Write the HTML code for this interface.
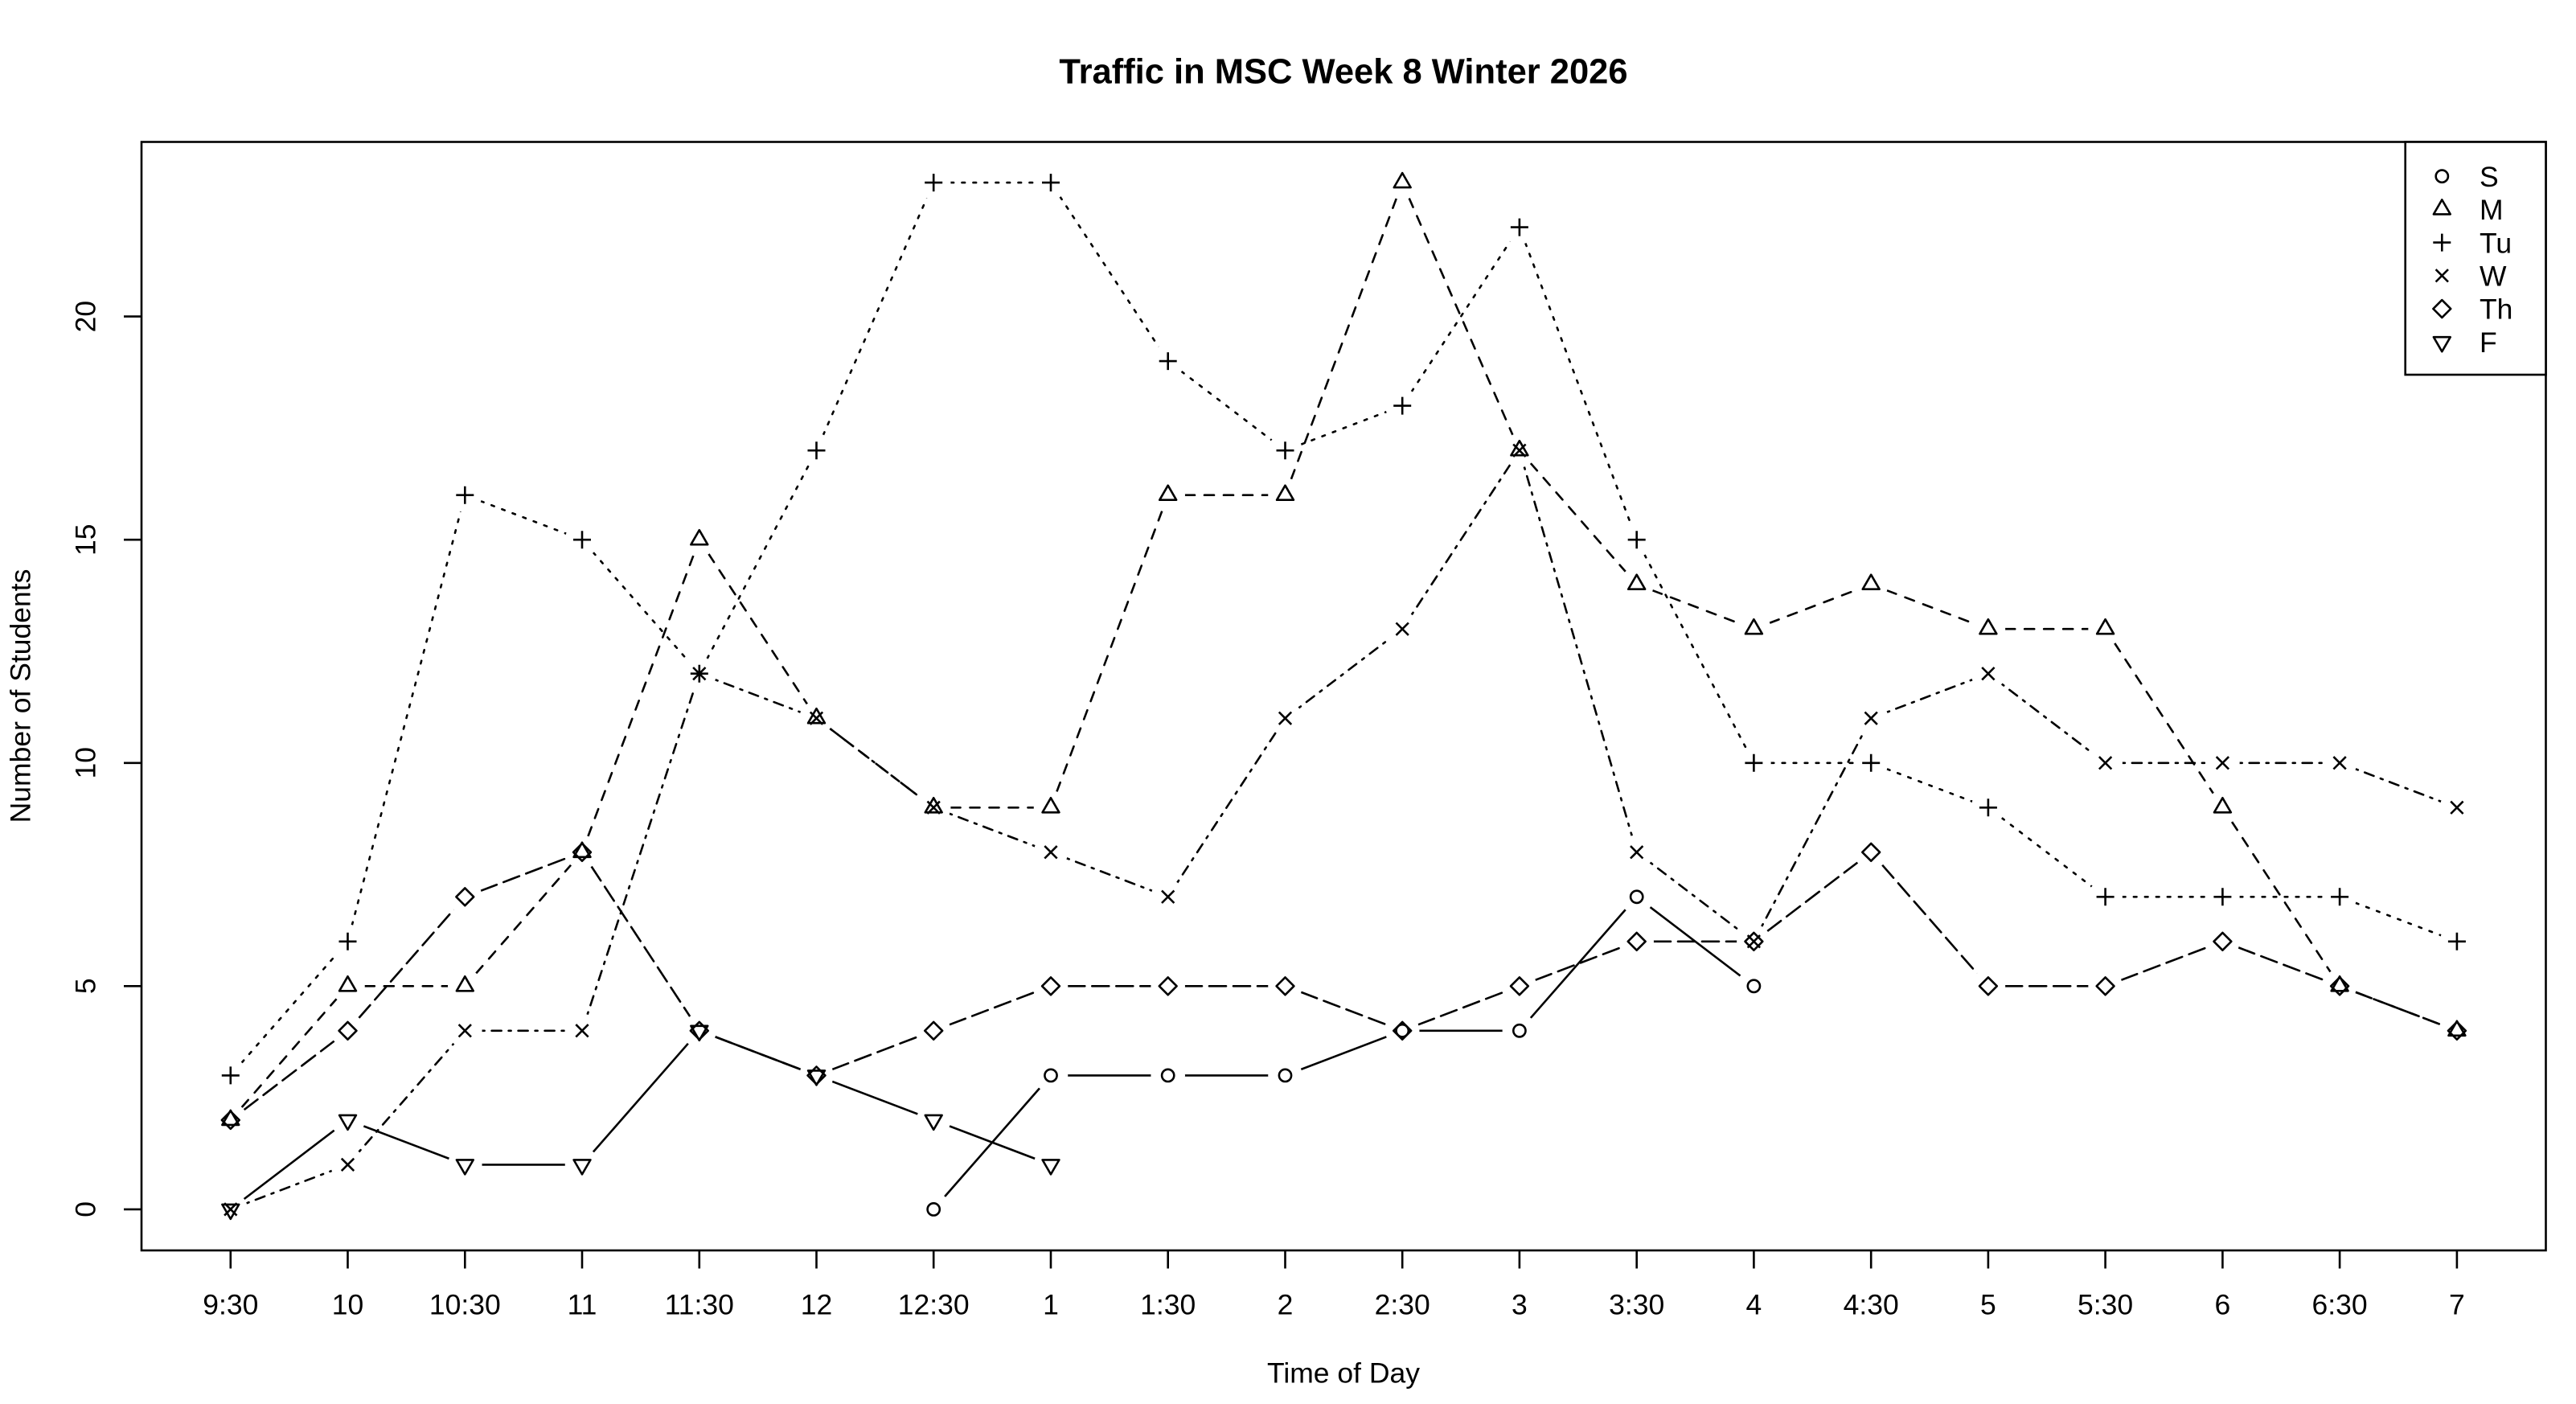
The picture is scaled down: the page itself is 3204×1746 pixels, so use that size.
<!DOCTYPE html>
<html>
<head>
<meta charset="utf-8">
<style>
html,body{margin:0;padding:0;background:#fff;}
svg{display:block;}
text{font-family:"Liberation Sans",Arial,Helvetica,sans-serif;fill:#000;}
</style>
</head>
<body>
<svg xmlns="http://www.w3.org/2000/svg" width="3204" height="1746" viewBox="0 0 3204 1746">
<defs>
  <circle id="p1" cx="0" cy="0" r="7.6" fill="none" stroke="#000" stroke-width="2.6"/>
  <polygon id="p2" points="0,-12 10.4,6 -10.4,6" fill="none" stroke="#000" stroke-width="2.6" stroke-linejoin="round"/>
  <path id="p3" d="M-11,0H11M0,-11V11" fill="none" stroke="#000" stroke-width="2.6"/>
  <path id="p4" d="M-7.7,-7.7L7.7,7.7M-7.7,7.7L7.7,-7.7" fill="none" stroke="#000" stroke-width="2.6"/>
  <polygon id="p5" points="0,-10.9 10.9,0 0,10.9 -10.9,0" fill="none" stroke="#000" stroke-width="2.6" stroke-linejoin="round"/>
  <polygon id="p6" points="0,12 10.4,-6 -10.4,-6" fill="none" stroke="#000" stroke-width="2.6" stroke-linejoin="round"/>

  <mask id="mS" maskUnits="userSpaceOnUse" x="0" y="0" width="3204" height="1746">
    <rect x="0" y="0" width="3204" height="1746" fill="#fff"/>
    <g fill="#000">
      <circle cx="1161.2" cy="1503.9" r="21.3"/><circle cx="1307" cy="1337.4" r="21.3"/><circle cx="1452.7" cy="1337.4" r="21.3"/><circle cx="1598.5" cy="1337.4" r="21.3"/><circle cx="1744.2" cy="1281.8" r="21.3"/><circle cx="1889.9" cy="1281.8" r="21.3"/><circle cx="2035.7" cy="1115.3" r="21.3"/><circle cx="2181.4" cy="1226.3" r="21.3"/>
    </g>
  </mask>
  <mask id="mM" maskUnits="userSpaceOnUse" x="0" y="0" width="3204" height="1746">
    <rect x="0" y="0" width="3204" height="1746" fill="#fff"/>
    <g fill="#000">
      <circle cx="286.8" cy="1392.9" r="21.3"/><circle cx="432.5" cy="1226.3" r="21.3"/><circle cx="578.3" cy="1226.3" r="21.3"/><circle cx="724" cy="1059.8" r="21.3"/><circle cx="869.8" cy="671.2" r="21.3"/><circle cx="1015.5" cy="893.2" r="21.3"/><circle cx="1161.2" cy="1004.3" r="21.3"/><circle cx="1307" cy="1004.3" r="21.3"/><circle cx="1452.7" cy="615.7" r="21.3"/><circle cx="1598.5" cy="615.7" r="21.3"/><circle cx="1744.2" cy="227.1" r="21.3"/><circle cx="1889.9" cy="560.2" r="21.3"/><circle cx="2035.7" cy="726.7" r="21.3"/><circle cx="2181.4" cy="782.2" r="21.3"/><circle cx="2327.2" cy="726.7" r="21.3"/><circle cx="2472.9" cy="782.2" r="21.3"/><circle cx="2618.6" cy="782.2" r="21.3"/><circle cx="2764.4" cy="1004.3" r="21.3"/><circle cx="2910.1" cy="1226.3" r="21.3"/><circle cx="3055.9" cy="1281.8" r="21.3"/>
    </g>
  </mask>
  <mask id="mTu" maskUnits="userSpaceOnUse" x="0" y="0" width="3204" height="1746">
    <rect x="0" y="0" width="3204" height="1746" fill="#fff"/>
    <g fill="#000">
      <circle cx="286.8" cy="1337.4" r="21.3"/><circle cx="432.5" cy="1170.8" r="21.3"/><circle cx="578.3" cy="615.7" r="21.3"/><circle cx="724" cy="671.2" r="21.3"/><circle cx="869.8" cy="837.7" r="21.3"/><circle cx="1015.5" cy="560.2" r="21.3"/><circle cx="1161.2" cy="227.1" r="21.3"/><circle cx="1307" cy="227.1" r="21.3"/><circle cx="1452.7" cy="449.1" r="21.3"/><circle cx="1598.5" cy="560.2" r="21.3"/><circle cx="1744.2" cy="504.6" r="21.3"/><circle cx="1889.9" cy="282.6" r="21.3"/><circle cx="2035.7" cy="671.2" r="21.3"/><circle cx="2181.4" cy="948.8" r="21.3"/><circle cx="2327.2" cy="948.8" r="21.3"/><circle cx="2472.9" cy="1004.3" r="21.3"/><circle cx="2618.6" cy="1115.3" r="21.3"/><circle cx="2764.4" cy="1115.3" r="21.3"/><circle cx="2910.1" cy="1115.3" r="21.3"/><circle cx="3055.9" cy="1170.8" r="21.3"/>
    </g>
  </mask>
  <mask id="mW" maskUnits="userSpaceOnUse" x="0" y="0" width="3204" height="1746">
    <rect x="0" y="0" width="3204" height="1746" fill="#fff"/>
    <g fill="#000">
      <circle cx="286.8" cy="1503.9" r="21.3"/><circle cx="432.5" cy="1448.4" r="21.3"/><circle cx="578.3" cy="1281.8" r="21.3"/><circle cx="724" cy="1281.8" r="21.3"/><circle cx="869.8" cy="837.7" r="21.3"/><circle cx="1015.5" cy="893.2" r="21.3"/><circle cx="1161.2" cy="1004.3" r="21.3"/><circle cx="1307" cy="1059.8" r="21.3"/><circle cx="1452.7" cy="1115.3" r="21.3"/><circle cx="1598.5" cy="893.2" r="21.3"/><circle cx="1744.2" cy="782.2" r="21.3"/><circle cx="1889.9" cy="560.2" r="21.3"/><circle cx="2035.7" cy="1059.8" r="21.3"/><circle cx="2181.4" cy="1170.8" r="21.3"/><circle cx="2327.2" cy="893.2" r="21.3"/><circle cx="2472.9" cy="837.7" r="21.3"/><circle cx="2618.6" cy="948.8" r="21.3"/><circle cx="2764.4" cy="948.8" r="21.3"/><circle cx="2910.1" cy="948.8" r="21.3"/><circle cx="3055.9" cy="1004.3" r="21.3"/>
    </g>
  </mask>
  <mask id="mTh" maskUnits="userSpaceOnUse" x="0" y="0" width="3204" height="1746">
    <rect x="0" y="0" width="3204" height="1746" fill="#fff"/>
    <g fill="#000">
      <circle cx="286.8" cy="1392.9" r="21.3"/><circle cx="432.5" cy="1281.8" r="21.3"/><circle cx="578.3" cy="1115.3" r="21.3"/><circle cx="724" cy="1059.8" r="21.3"/><circle cx="869.8" cy="1281.8" r="21.3"/><circle cx="1015.5" cy="1337.4" r="21.3"/><circle cx="1161.2" cy="1281.8" r="21.3"/><circle cx="1307" cy="1226.3" r="21.3"/><circle cx="1452.7" cy="1226.3" r="21.3"/><circle cx="1598.5" cy="1226.3" r="21.3"/><circle cx="1744.2" cy="1281.8" r="21.3"/><circle cx="1889.9" cy="1226.3" r="21.3"/><circle cx="2035.7" cy="1170.8" r="21.3"/><circle cx="2181.4" cy="1170.8" r="21.3"/><circle cx="2327.2" cy="1059.8" r="21.3"/><circle cx="2472.9" cy="1226.3" r="21.3"/><circle cx="2618.6" cy="1226.3" r="21.3"/><circle cx="2764.4" cy="1170.8" r="21.3"/><circle cx="2910.1" cy="1226.3" r="21.3"/><circle cx="3055.9" cy="1281.8" r="21.3"/>
    </g>
  </mask>
  <mask id="mF" maskUnits="userSpaceOnUse" x="0" y="0" width="3204" height="1746">
    <rect x="0" y="0" width="3204" height="1746" fill="#fff"/>
    <g fill="#000">
      <circle cx="286.8" cy="1503.9" r="21.3"/><circle cx="432.5" cy="1392.9" r="21.3"/><circle cx="578.3" cy="1448.4" r="21.3"/><circle cx="724" cy="1448.4" r="21.3"/><circle cx="869.8" cy="1281.8" r="21.3"/><circle cx="1015.5" cy="1337.4" r="21.3"/><circle cx="1161.2" cy="1392.9" r="21.3"/><circle cx="1307" cy="1448.4" r="21.3"/>
    </g>
  </mask>
</defs>

<rect x="0" y="0" width="3204" height="1746" fill="#fff"/>

<!-- Title -->
<text x="1671" y="103.3" font-size="43.5" font-weight="bold" text-anchor="middle">Traffic in MSC Week 8 Winter 2026</text>

<!-- Plot box -->
<rect x="176" y="176.5" width="2990.5" height="1378.5" fill="none" stroke="#000" stroke-width="2.6"/>

<!-- X axis ticks -->
<g stroke="#000" stroke-width="2.6">
  <line x1="286.8" y1="1555" x2="286.8" y2="1577.5"/>
  <line x1="432.5" y1="1555" x2="432.5" y2="1577.5"/>
  <line x1="578.3" y1="1555" x2="578.3" y2="1577.5"/>
  <line x1="724" y1="1555" x2="724" y2="1577.5"/>
  <line x1="869.8" y1="1555" x2="869.8" y2="1577.5"/>
  <line x1="1015.5" y1="1555" x2="1015.5" y2="1577.5"/>
  <line x1="1161.2" y1="1555" x2="1161.2" y2="1577.5"/>
  <line x1="1307" y1="1555" x2="1307" y2="1577.5"/>
  <line x1="1452.7" y1="1555" x2="1452.7" y2="1577.5"/>
  <line x1="1598.5" y1="1555" x2="1598.5" y2="1577.5"/>
  <line x1="1744.2" y1="1555" x2="1744.2" y2="1577.5"/>
  <line x1="1889.9" y1="1555" x2="1889.9" y2="1577.5"/>
  <line x1="2035.7" y1="1555" x2="2035.7" y2="1577.5"/>
  <line x1="2181.4" y1="1555" x2="2181.4" y2="1577.5"/>
  <line x1="2327.2" y1="1555" x2="2327.2" y2="1577.5"/>
  <line x1="2472.9" y1="1555" x2="2472.9" y2="1577.5"/>
  <line x1="2618.6" y1="1555" x2="2618.6" y2="1577.5"/>
  <line x1="2764.4" y1="1555" x2="2764.4" y2="1577.5"/>
  <line x1="2910.1" y1="1555" x2="2910.1" y2="1577.5"/>
  <line x1="3055.9" y1="1555" x2="3055.9" y2="1577.5"/>
</g>
<g font-size="35.5" text-anchor="middle">
  <text x="286.8" y="1634.3">9:30</text>
  <text x="432.5" y="1634.3">10</text>
  <text x="578.3" y="1634.3">10:30</text>
  <text x="724" y="1634.3">11</text>
  <text x="869.8" y="1634.3">11:30</text>
  <text x="1015.5" y="1634.3">12</text>
  <text x="1161.2" y="1634.3">12:30</text>
  <text x="1307" y="1634.3">1</text>
  <text x="1452.7" y="1634.3">1:30</text>
  <text x="1598.5" y="1634.3">2</text>
  <text x="1744.2" y="1634.3">2:30</text>
  <text x="1889.9" y="1634.3">3</text>
  <text x="2035.7" y="1634.3">3:30</text>
  <text x="2181.4" y="1634.3">4</text>
  <text x="2327.2" y="1634.3">4:30</text>
  <text x="2472.9" y="1634.3">5</text>
  <text x="2618.6" y="1634.3">5:30</text>
  <text x="2764.4" y="1634.3">6</text>
  <text x="2910.1" y="1634.3">6:30</text>
  <text x="3055.9" y="1634.3">7</text>
  <text x="1671" y="1719.5">Time of Day</text>
</g>

<!-- Y axis ticks -->
<g stroke="#000" stroke-width="2.6">
  <line x1="154" y1="1503.9" x2="176" y2="1503.9"/>
  <line x1="154" y1="1226.3" x2="176" y2="1226.3"/>
  <line x1="154" y1="948.8" x2="176" y2="948.8"/>
  <line x1="154" y1="671.2" x2="176" y2="671.2"/>
  <line x1="154" y1="393.6" x2="176" y2="393.6"/>
</g>
<g font-size="35.5" text-anchor="middle">
  <text transform="translate(118.3,1503.9) rotate(-90)">0</text>
  <text transform="translate(118.3,1226.3) rotate(-90)">5</text>
  <text transform="translate(118.3,948.8) rotate(-90)">10</text>
  <text transform="translate(118.3,671.2) rotate(-90)">15</text>
  <text transform="translate(118.3,393.6) rotate(-90)">20</text>
  <text transform="translate(37.3,865.5) rotate(-90)">Number of Students</text>
</g>

<!-- Series lines -->
<g fill="none" stroke="#000" stroke-width="2.6" stroke-linecap="round">
  <!-- S: solid -->
  <path mask="url(#mS)" d="M1161.2 1503.9L1307 1337.4M1307 1337.4L1452.7 1337.4M1452.7 1337.4L1598.5 1337.4M1598.5 1337.4L1744.2 1281.8M1744.2 1281.8L1889.9 1281.8M1889.9 1281.8L2035.7 1115.3M2035.7 1115.3L2181.4 1226.3"/>
  <!-- M: dashed -->
  <path mask="url(#mM)" stroke-dasharray="12 12" stroke-dashoffset="-21.3" d="M286.8 1392.9L432.5 1226.3M432.5 1226.3L578.3 1226.3M578.3 1226.3L724 1059.8M724 1059.8L869.8 671.2M869.8 671.2L1015.5 893.2M1015.5 893.2L1161.2 1004.3M1161.2 1004.3L1307 1004.3M1307 1004.3L1452.7 615.7M1452.7 615.7L1598.5 615.7M1598.5 615.7L1744.2 227.1M1744.2 227.1L1889.9 560.2M1889.9 560.2L2035.7 726.7M2035.7 726.7L2181.4 782.2M2181.4 782.2L2327.2 726.7M2327.2 726.7L2472.9 782.2M2472.9 782.2L2618.6 782.2M2618.6 782.2L2764.4 1004.3M2764.4 1004.3L2910.1 1226.3M2910.1 1226.3L3055.9 1281.8"/>
  <!-- Tu: dotted -->
  <path mask="url(#mTu)" stroke-dasharray="3.6 10.4" stroke-dashoffset="-21.3" d="M286.8 1337.4L432.5 1170.8M432.5 1170.8L578.3 615.7M578.3 615.7L724 671.2M724 671.2L869.8 837.7M869.8 837.7L1015.5 560.2M1015.5 560.2L1161.2 227.1M1161.2 227.1L1307 227.1M1307 227.1L1452.7 449.1M1452.7 449.1L1598.5 560.2M1598.5 560.2L1744.2 504.6M1744.2 504.6L1889.9 282.6M1889.9 282.6L2035.7 671.2M2035.7 671.2L2181.4 948.8M2181.4 948.8L2327.2 948.8M2327.2 948.8L2472.9 1004.3M2472.9 1004.3L2618.6 1115.3M2618.6 1115.3L2764.4 1115.3M2764.4 1115.3L2910.1 1115.3M2910.1 1115.3L3055.9 1170.8"/>
  <!-- W: dotdash -->
  <path mask="url(#mW)" stroke-dasharray="3 9 12 9" stroke-dashoffset="-21.3" d="M286.8 1503.9L432.5 1448.4M432.5 1448.4L578.3 1281.8M578.3 1281.8L724 1281.8M724 1281.8L869.8 837.7M869.8 837.7L1015.5 893.2M1015.5 893.2L1161.2 1004.3M1161.2 1004.3L1307 1059.8M1307 1059.8L1452.7 1115.3M1452.7 1115.3L1598.5 893.2M1598.5 893.2L1744.2 782.2M1744.2 782.2L1889.9 560.2M1889.9 560.2L2035.7 1059.8M2035.7 1059.8L2181.4 1170.8M2181.4 1170.8L2327.2 893.2M2327.2 893.2L2472.9 837.7M2472.9 837.7L2618.6 948.8M2618.6 948.8L2764.4 948.8M2764.4 948.8L2910.1 948.8M2910.1 948.8L3055.9 1004.3"/>
  <!-- Th: longdash -->
  <path mask="url(#mTh)" stroke-dasharray="21 9" stroke-dashoffset="-21.3" d="M286.8 1392.9L432.5 1281.8M432.5 1281.8L578.3 1115.3M578.3 1115.3L724 1059.8M724 1059.8L869.8 1281.8M869.8 1281.8L1015.5 1337.4M1015.5 1337.4L1161.2 1281.8M1161.2 1281.8L1307 1226.3M1307 1226.3L1452.7 1226.3M1452.7 1226.3L1598.5 1226.3M1598.5 1226.3L1744.2 1281.8M1744.2 1281.8L1889.9 1226.3M1889.9 1226.3L2035.7 1170.8M2035.7 1170.8L2181.4 1170.8M2181.4 1170.8L2327.2 1059.8M2327.2 1059.8L2472.9 1226.3M2472.9 1226.3L2618.6 1226.3M2618.6 1226.3L2764.4 1170.8M2764.4 1170.8L2910.1 1226.3M2910.1 1226.3L3055.9 1281.8"/>
  <!-- F: solid -->
  <path mask="url(#mF)" d="M286.8 1503.9L432.5 1392.9M432.5 1392.9L578.3 1448.4M578.3 1448.4L724 1448.4M724 1448.4L869.8 1281.8M869.8 1281.8L1015.5 1337.4M1015.5 1337.4L1161.2 1392.9M1161.2 1392.9L1307 1448.4"/>
</g>

<!-- Series points -->
<!-- S -->
<use href="#p1" x="1161.2" y="1503.9"/><use href="#p1" x="1307" y="1337.4"/><use href="#p1" x="1452.7" y="1337.4"/><use href="#p1" x="1598.5" y="1337.4"/><use href="#p1" x="1744.2" y="1281.8"/><use href="#p1" x="1889.9" y="1281.8"/><use href="#p1" x="2035.7" y="1115.3"/><use href="#p1" x="2181.4" y="1226.3"/>
<!-- M -->
<use href="#p2" x="286.8" y="1392.9"/><use href="#p2" x="432.5" y="1226.3"/><use href="#p2" x="578.3" y="1226.3"/><use href="#p2" x="724" y="1059.8"/><use href="#p2" x="869.8" y="671.2"/><use href="#p2" x="1015.5" y="893.2"/><use href="#p2" x="1161.2" y="1004.3"/><use href="#p2" x="1307" y="1004.3"/><use href="#p2" x="1452.7" y="615.7"/><use href="#p2" x="1598.5" y="615.7"/><use href="#p2" x="1744.2" y="227.1"/><use href="#p2" x="1889.9" y="560.2"/><use href="#p2" x="2035.7" y="726.7"/><use href="#p2" x="2181.4" y="782.2"/><use href="#p2" x="2327.2" y="726.7"/><use href="#p2" x="2472.9" y="782.2"/><use href="#p2" x="2618.6" y="782.2"/><use href="#p2" x="2764.4" y="1004.3"/><use href="#p2" x="2910.1" y="1226.3"/><use href="#p2" x="3055.9" y="1281.8"/>
<!-- Tu -->
<use href="#p3" x="286.8" y="1337.4"/><use href="#p3" x="432.5" y="1170.8"/><use href="#p3" x="578.3" y="615.7"/><use href="#p3" x="724" y="671.2"/><use href="#p3" x="869.8" y="837.7"/><use href="#p3" x="1015.5" y="560.2"/><use href="#p3" x="1161.2" y="227.1"/><use href="#p3" x="1307" y="227.1"/><use href="#p3" x="1452.7" y="449.1"/><use href="#p3" x="1598.5" y="560.2"/><use href="#p3" x="1744.2" y="504.6"/><use href="#p3" x="1889.9" y="282.6"/><use href="#p3" x="2035.7" y="671.2"/><use href="#p3" x="2181.4" y="948.8"/><use href="#p3" x="2327.2" y="948.8"/><use href="#p3" x="2472.9" y="1004.3"/><use href="#p3" x="2618.6" y="1115.3"/><use href="#p3" x="2764.4" y="1115.3"/><use href="#p3" x="2910.1" y="1115.3"/><use href="#p3" x="3055.9" y="1170.8"/>
<!-- W -->
<use href="#p4" x="286.8" y="1503.9"/><use href="#p4" x="432.5" y="1448.4"/><use href="#p4" x="578.3" y="1281.8"/><use href="#p4" x="724" y="1281.8"/><use href="#p4" x="869.8" y="837.7"/><use href="#p4" x="1015.5" y="893.2"/><use href="#p4" x="1161.2" y="1004.3"/><use href="#p4" x="1307" y="1059.8"/><use href="#p4" x="1452.7" y="1115.3"/><use href="#p4" x="1598.5" y="893.2"/><use href="#p4" x="1744.2" y="782.2"/><use href="#p4" x="1889.9" y="560.2"/><use href="#p4" x="2035.7" y="1059.8"/><use href="#p4" x="2181.4" y="1170.8"/><use href="#p4" x="2327.2" y="893.2"/><use href="#p4" x="2472.9" y="837.7"/><use href="#p4" x="2618.6" y="948.8"/><use href="#p4" x="2764.4" y="948.8"/><use href="#p4" x="2910.1" y="948.8"/><use href="#p4" x="3055.9" y="1004.3"/>
<!-- Th -->
<use href="#p5" x="286.8" y="1392.9"/><use href="#p5" x="432.5" y="1281.8"/><use href="#p5" x="578.3" y="1115.3"/><use href="#p5" x="724" y="1059.8"/><use href="#p5" x="869.8" y="1281.8"/><use href="#p5" x="1015.5" y="1337.4"/><use href="#p5" x="1161.2" y="1281.8"/><use href="#p5" x="1307" y="1226.3"/><use href="#p5" x="1452.7" y="1226.3"/><use href="#p5" x="1598.5" y="1226.3"/><use href="#p5" x="1744.2" y="1281.8"/><use href="#p5" x="1889.9" y="1226.3"/><use href="#p5" x="2035.7" y="1170.8"/><use href="#p5" x="2181.4" y="1170.8"/><use href="#p5" x="2327.2" y="1059.8"/><use href="#p5" x="2472.9" y="1226.3"/><use href="#p5" x="2618.6" y="1226.3"/><use href="#p5" x="2764.4" y="1170.8"/><use href="#p5" x="2910.1" y="1226.3"/><use href="#p5" x="3055.9" y="1281.8"/>
<!-- F -->
<use href="#p6" x="286.8" y="1503.9"/><use href="#p6" x="432.5" y="1392.9"/><use href="#p6" x="578.3" y="1448.4"/><use href="#p6" x="724" y="1448.4"/><use href="#p6" x="869.8" y="1281.8"/><use href="#p6" x="1015.5" y="1337.4"/><use href="#p6" x="1161.2" y="1392.9"/><use href="#p6" x="1307" y="1448.4"/>

<!-- Legend -->
<rect x="2991.7" y="176.5" width="174.8" height="289.5" fill="#fff" stroke="#000" stroke-width="2.6"/>
<use href="#p1" x="3037.3" y="219.2"/>
<use href="#p2" x="3037.3" y="260.4"/>
<use href="#p3" x="3037.3" y="301.6"/>
<use href="#p4" x="3037.3" y="342.8"/>
<use href="#p5" x="3037.3" y="384"/>
<use href="#p6" x="3037.3" y="425.2"/>
<g font-size="35.5">
  <text x="3084" y="231.9">S</text>
  <text x="3084" y="273.1">M</text>
  <text x="3084" y="314.3">Tu</text>
  <text x="3084" y="355.5">W</text>
  <text x="3084" y="396.7">Th</text>
  <text x="3084" y="437.9">F</text>
</g>
</svg>
</body>
</html>
